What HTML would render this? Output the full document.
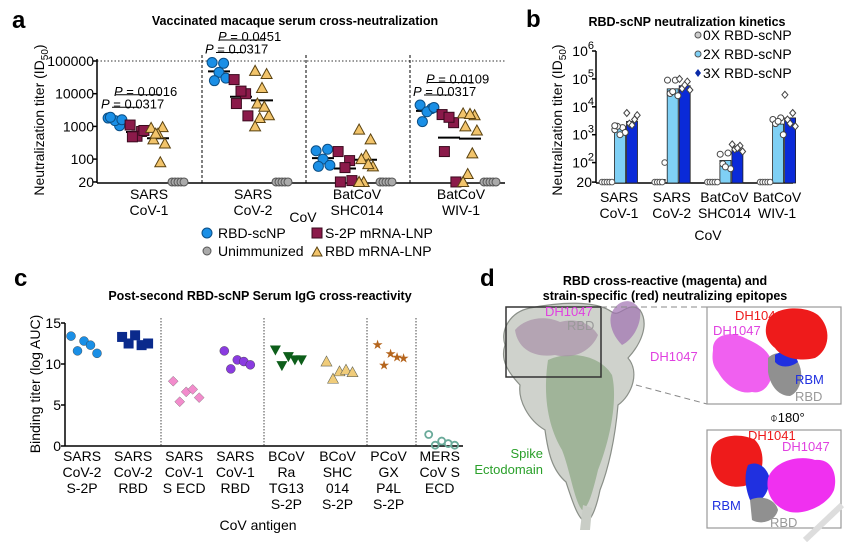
<!DOCTYPE html>
<html><head><meta charset="utf-8"><style>
html,body{margin:0;padding:0;background:#fff;}
svg{display:block;font-family:"Liberation Sans",Arial,sans-serif;}
</style></head><body>
<svg id="fig" width="845" height="542" viewBox="0 0 845 542">
<text x="12" y="28" font-size="24" font-weight="bold">a</text>
<text x="295" y="25" font-size="12.5" font-weight="bold" text-anchor="middle">Vaccinated macaque serum cross-neutralization</text>
<text x="526" y="27" font-size="24" font-weight="bold">b</text>
<text x="687" y="26" font-size="12.5" font-weight="bold" text-anchor="middle">RBD-scNP neutralization kinetics</text>
<text x="14" y="286" font-size="24" font-weight="bold">c</text>
<text x="260" y="300" font-size="12.5" font-weight="bold" text-anchor="middle">Post-second RBD-scNP Serum IgG cross-reactivity</text>
<text x="480" y="286" font-size="24" font-weight="bold">d</text>
<text x="665" y="285" font-size="12.5" font-weight="bold" text-anchor="middle">RBD cross-reactive (magenta) and</text>
<text x="665" y="300" font-size="12.5" font-weight="bold" text-anchor="middle">strain-specific (red) neutralizing epitopes</text>

<g id="pa">
<text transform="translate(44,120) rotate(-90)" font-size="14" text-anchor="middle">Neutralization titer (ID<tspan font-size="10" dy="4">50</tspan><tspan dy="-4">)</tspan></text>
<text x="303" y="222" font-size="14" text-anchor="middle">CoV</text>
<g>
<circle cx="207" cy="233" r="5" fill="#1a8fe6" stroke="#0b4f86" stroke-width="1"/>
<text x="218" y="238" font-size="14">RBD-scNP</text>
<rect x="312" y="228" width="10" height="10" fill="#8b1a4a" stroke="#3a0a1e"/>
<text x="325" y="238" font-size="14">S-2P mRNA-LNP</text>
<circle cx="207" cy="251" r="4" fill="#aaa" stroke="#555"/>
<text x="218" y="256" font-size="14">Unimmunized</text>
<path d="M312,256 L317,247 L322,256 Z" fill="#f2c46b" stroke="#5a4210"/>
<text x="325" y="256" font-size="14">RBD mRNA-LNP</text>
</g>
</g>
<g id="pb">
<text transform="translate(562,120) rotate(-90)" font-size="14" text-anchor="middle">Neutralization titer (ID<tspan font-size="10" dy="4">50</tspan><tspan dy="-4">)</tspan></text>
<text x="708" y="240" font-size="14" text-anchor="middle">CoV</text>
<g>
<circle cx="698" cy="35" r="3" fill="#ccc" stroke="#555"/>
<text x="703" y="40" font-size="14">0X RBD-scNP</text>
<circle cx="698" cy="54" r="3" fill="#7fd0f5" stroke="#555"/>
<text x="703" y="59" font-size="14">2X RBD-scNP</text>
<path d="M698,69 L701,73 L698,77 L695,73 Z" fill="#0a2aa8"/>
<text x="703" y="78" font-size="14">3X RBD-scNP</text>
</g>
</g>
<g id="pc">
<text transform="translate(40,384) rotate(-90)" font-size="14" text-anchor="middle">Binding titer (log AUC)</text>
<text x="258" y="530" font-size="14" text-anchor="middle">CoV antigen</text>
</g>

<g>
<g>
<path d="M505,345 C500,330 510,312 530,308 C560,302 595,300 612,312 C620,318 628,300 640,310 C650,325 640,345 628,358 C640,372 632,395 618,405 C615,440 608,470 600,490 C597,505 592,520 586,522 C578,520 572,500 566,482 C552,470 548,452 545,430 C528,420 518,400 520,385 C508,372 500,360 505,345 Z" fill="#cfd2cc" stroke="#8a8f88" stroke-width="1.2"/>
<path d="M548,360 C570,350 600,355 612,375 C618,400 610,440 598,470 C592,495 588,508 582,510 C574,500 570,470 562,450 C550,430 542,400 548,360 Z" fill="#93ad8c" opacity="0.8"/>
<path d="M515,330 C525,318 545,315 560,322 C575,318 590,322 598,335 C592,350 575,360 555,355 C535,358 518,350 515,330 Z" fill="#a890a8" opacity="0.7"/>
<path d="M612,312 C618,300 632,296 640,310 C642,325 632,340 622,345 C612,335 608,322 612,312 Z" fill="#a070b0" opacity="0.7"/>
<path d="M583,505 L592,508 L590,530 L580,530 Z" fill="#c9cdc6"/>
</g>
<rect x="506" y="307" width="95" height="70" fill="none" stroke="#333" stroke-width="1.5"/>
<line x1="601" y1="307" x2="707" y2="307" stroke="#888" stroke-dasharray="6,4"/>
<line x1="636" y1="385" x2="707" y2="404" stroke="#888" stroke-dasharray="6,4"/>
<text x="545" y="316" font-size="13" fill="#e040e0">DH1047</text>
<text x="567" y="330" font-size="13" fill="#999">RBD</text>
<text x="650" y="361" font-size="13" fill="#e040e0">DH1047</text>
<text x="543" y="458" font-size="13" fill="#2aa02a" text-anchor="end">Spike</text>
<text x="543" y="474" font-size="13" fill="#2aa02a" text-anchor="end">Ectodomain</text>
<g>
<rect x="707" y="307" width="134" height="97" fill="#fff" stroke="#999" stroke-width="1.2"/>
<path d="M713,350 C712,335 730,330 745,338 C760,345 768,350 772,362 C775,380 765,395 752,392 C740,395 725,385 718,372 C712,365 712,358 713,350 Z" fill="#f060f0"/>
<path d="M768,358 C775,350 790,352 798,362 C805,375 800,392 790,396 C778,396 770,385 768,372 Z" fill="#909090"/>
<path d="M775,355 C785,348 795,352 798,362 C790,368 780,368 775,362 Z" fill="#2030e0"/>
<path d="M768,320 C775,306 805,305 818,315 C832,328 830,350 815,358 C800,362 782,358 775,348 C765,340 764,330 768,320 Z" fill="#ee1b1b"/>
<text x="735" y="320" font-size="13" fill="#ee1b1b">DH1041</text>
<text x="713" y="335" font-size="13" fill="#e040e0">DH1047</text>
<text x="795" y="384" font-size="13" fill="#2030e0">RBM</text>
<text x="795" y="401" font-size="13" fill="#999">RBD</text>
</g>
<text x="770" y="422" font-size="13">⌽180°</text>
<g>
<rect x="707" y="430" width="134" height="98" fill="#fff" stroke="#999" stroke-width="1.2"/>
<path d="M712,450 C715,435 740,432 755,440 C765,450 765,470 755,482 C740,490 722,488 715,475 C710,465 710,458 712,450 Z" fill="#ee1b1b"/>
<path d="M748,465 C758,460 768,468 770,480 C768,495 760,505 750,500 C745,488 744,475 748,465 Z" fill="#2030e0"/>
<path d="M750,500 C760,495 775,498 778,510 C775,522 760,525 752,520 Z" fill="#909090"/>
<path d="M768,478 C775,460 800,455 815,460 C832,458 838,475 834,490 C828,505 805,515 790,512 C775,508 765,495 768,478 Z" fill="#f030f0"/>
<text x="748" y="440" font-size="13" fill="#ee1b1b">DH1041</text>
<text x="782" y="451" font-size="13" fill="#e040e0">DH1047</text>
<text x="712" y="510" font-size="13" fill="#2030e0">RBM</text>
<text x="770" y="527" font-size="13" fill="#999">RBD</text>
</g>
<path d="M805,540 L842,505" stroke="#ddd" stroke-width="6" fill="none"/>
</g>

<script>
// ===== Panel a data =====
const aGroups = ["SARS|CoV-1", "SARS|CoV-2", "BatCoV|SHC014", "BatCoV|WIV-1"];
const aRbdScnp = [[1800,1050,1500,1900,1600],[90000,85000,45000,25000,30000],[180,200,100,60,65],[4500,3500,2800,1400,3800]];
const aS2p = [[1100,700,500,480,750],[27000,10000,12000,5000,2100],[170,90,55,20,22],[2300,1300,1900,170,20]];
const aRbdMrna = [[900,950,600,400,300,80,600],[50000,40000,15000,5000,2200,4000,1800,1000],[800,400,130,100,60,70,20,20],[2500,2200,2400,1000,750,150,35,20]];
const aUnimm = [[20,20,20,20,20],[20,20,20,20,20],[20,20,20,20,20],[20,20,20,20,20]];
const aTicks = [20,100,1000,10000,100000];
const aTickLabels = ["20","100","1000","10000","100000"];
const aPvals = [["0.0317","0.0016"],["0.0317","0.0451"],[],["0.0317","0.0109"]];

// ===== Panel b data =====
const bGroups = ["SARS|CoV-1", "SARS|CoV-2", "BatCoV|SHC014", "BatCoV|WIV-1"];
const b0xBars = [20,25,20,20];
const b2xBars = [2000,44000,120,2400];
const b3xBars = [3000,57000,270,4000];
const b0xPts = [[20,20,20,20,20],[20,20,20,20,100],[20,20,20,20,20],[20,20,20,20,20]];
const b2xPts = [[1500,1800,2000,1200,1000,2100],[90000,90000,30000,25000,35000],[200,220,90,60,70],[3500,4000,2500,1000,3000]];
const b3xPts = [[6000,3500,2500,5000,2200],[100000,80000,45000,40000,60000],[450,400,300,250,330],[27000,6000,3500,2000,2500]];
const bTicks = [20,100,1000,10000,100000,1000000];
const bTickExp = ["","2","3","4","5","6"];

// ===== Panel c data =====
const cGroups = ["SARS|CoV-2|S-2P","SARS|CoV-2|RBD","SARS|CoV-1|S ECD","SARS|CoV-1|RBD","BCoV|Ra|TG13|S-2P","BCoV|SHC|014|S-2P","PCoV|GX|P4L|S-2P","MERS|CoV S|ECD"];
const cValues = [[13.4,11.6,12.8,12.3,11.3],[13.3,12.5,13.5,12.3,12.5],[7.9,5.4,6.6,6.9,5.9],[11.6,9.4,10.5,10.3,9.9],[11.7,9.8,10.9,10.5,10.5],[10.3,8.2,9.1,9.3,9.0],[12.3,9.8,11.2,10.8,10.7],[1.4,0.1,0.6,0.3,0.1]];
const cTicks = [0,5,10,15];

const NS = "http://www.w3.org/2000/svg";
function mk(tag, attrs, parent){ const e=document.createElementNS(NS,tag); for(const k in attrs) e.setAttribute(k,attrs[k]); parent.appendChild(e); return e; }
const L10 = Math.log10;

(function(){
  const g = document.getElementById('pa');
  const X0=97, X1=505, YB=183;
  const ya = v => 61 + (5 - L10(v))*32.7;
  const gx = k => 97 + k*104;
  let e;
  e = mk('line',{x1:X0,y1:ya(100000),x2:X1,y2:ya(100000),stroke:'#333','stroke-dasharray':'1.5,2'},g);
   
  e = mk('line',{x1:X0,y1:YB,x2:X1,y2:YB,stroke:'#000','stroke-width':1.5},g);
   
  e = mk('line',{x1:X0,y1:ya(100000)-2,x2:X0,y2:YB,stroke:'#000','stroke-width':1.5},g);
   
  aTicks.forEach((t,i)=>{
    const y=ya(t);
    const tk=mk('line',{x1:X0-4,y1:y,x2:X0,y2:y,stroke:'#000','stroke-width':1.5},g);
     
    const tl=mk('text',{x:X0-3,y:y+5,'font-size':14,'text-anchor':'end'},g); tl.textContent=aTickLabels[i];
     
  });
  [1,2,3].forEach(k=>{
    const s=mk('line',{x1:gx(k)+1,y1:ya(100000)-6,x2:gx(k)+1,y2:YB,stroke:'#000','stroke-dasharray':'3,2'},g);
     
  });
  const jit = i => ((i*5)%7 - 3)*2.3;
  const gm = arr => Math.pow(10, arr.reduce((a,b)=>a+L10(b),0)/arr.length);
  aGroups.forEach((name,k)=>{
    const base=gx(k);
    name.split('|').forEach((p,j)=>{
      const t=mk('text',{x:base+52,y:199+j*16,'font-size':14,'text-anchor':'middle'},g); t.textContent=p;
       
    });
    [[aRbdScnp,18],[aS2p,40],[aRbdMrna,61]].forEach(([ser,off])=>{
      const y=ya(gm(ser[k]));
      const m=mk('line',{x1:base+off-11,y1:y,x2:base+off+11,y2:y,stroke:'#000','stroke-width':2},g);
       
    });
    aRbdScnp[k].forEach((v,i)=>{
      const c=mk('circle',{cx:base+18+jit(i),cy:ya(v),r:5,fill:'#1a8fe6',stroke:'#0b4f86'},g);
       
    });
    aS2p[k].forEach((v,i)=>{
      const r=mk('rect',{x:base+40+jit(i)-5,y:ya(v)-5,width:10,height:10,fill:'#8b1a4a',stroke:'#3a0a1e'},g);
       
    });
    aRbdMrna[k].forEach((v,i)=>{
      const x=base+61+jit(i), y=ya(v);
      const p=mk('path',{d:`M${x-5.5},${y+4.5} L${x},${y-5.5} L${x+5.5},${y+4.5} Z`,fill:'#f2c46b',stroke:'#5a4210'},g);
       
    });
    aUnimm[k].forEach((v,i)=>{
      const c=mk('circle',{cx:base+75+i*3,cy:ya(v),r:4,fill:'#aaa',stroke:'#555'},g);
       
    });
    const pv=aPvals[k];
    if(pv.length){
      const yBase = ya(Math.max(...aRbdScnp[k]))-10;
      const pairs=[[18,40,yBase],[22,62,yBase-12.5]];
      pv.forEach((p,j)=>{
        const [o1,o2,y]=pairs[j];
        const ln=mk('line',{x1:base+o1-3,y1:y,x2:base+o2+2,y2:y,stroke:'#000'},g);
         
        const t=mk('text',{x:base+o1-14+j*9,y:y+1,'font-size':13},g);
         
        const ti=mk('tspan',{'font-style':'italic'},t); ti.textContent='P';
        const tr=mk('tspan',{},t); tr.textContent=' = '+p;
      });
    }
  });
})();

(function(){
  const g=document.getElementById('pb');
  const X0=596, X1=793, YB=183;
  const yb = v => 51 + (6 - L10(v))*27.9;
  const gc = k => 619 + k*52.7;
  let e;
  e=mk('line',{x1:X0,y1:YB,x2:X1,y2:YB,stroke:'#000','stroke-width':1.5},g);
   
  e=mk('line',{x1:X0,y1:yb(1e6),x2:X0,y2:YB,stroke:'#000','stroke-width':1.5},g);
   
  bTicks.forEach((t,i)=>{
    const y=yb(t);
    const tk=mk('line',{x1:X0-4,y1:y,x2:X0,y2:y,stroke:'#000','stroke-width':1.5},g);
     
    const tl=mk('text',{x:X0-4,y:y+5,'font-size':14,'text-anchor':'end'},g);
     
    if(bTickExp[i]===''){ tl.textContent='20'; }
    else { const a=mk('tspan',{},tl); a.textContent='10'; const b=mk('tspan',{'font-size':11,dy:-7},tl); b.textContent=bTickExp[i]; tl.setAttribute('x',X0-2); }
  });
  bGroups.forEach((name,k)=>{
    const c=gc(k);
    name.split('|').forEach((p,j)=>{
      const t=mk('text',{x:c,y:202+j*16,'font-size':14,'text-anchor':'middle'},g); t.textContent=p;
       
    });
    const bars=[[b0xBars,-12,'#e8e8e8'],[b2xBars,1,'#7fd0f5'],[b3xBars,13,'#0a2ad8']];
    bars.forEach(([arr,off,col],bi)=>{
      const y=yb(arr[k]);
      const r=mk('rect',{x:c+off-5.5,y:y,width:11,height:Math.max(0,YB-y),fill:col,stroke:'#222','stroke-width':0.8},g);
       
    });
    b0xPts[k].forEach((v,i)=>{
      const p=mk('circle',{cx:c-17+i*2.5,cy:yb(v),r:2.8,fill:'#fff',stroke:'#555'},g);
       
    });
    b2xPts[k].forEach((v,i)=>{
      const p=mk('circle',{cx:c+1+((i*3)%5-2)*2.6,cy:yb(v),r:3,fill:'#fff',stroke:'#444'},g);
       
    });
    b3xPts[k].forEach((v,i)=>{
      const x=c+13+((i*3)%5-2)*2.6, y=yb(v);
      const p=mk('path',{d:`M${x},${y-3.5} L${x+3},${y} L${x},${y+3.5} L${x-3},${y} Z`,fill:'#fff',stroke:'#444'},g);
       
    });
  });
})();

(function(){
  const g=document.getElementById('pc');
  const X0=65, X1=463, YB=446;
  const yc = v => 446 - v*8.2;
  const gc = k => 82 + k*51.1;
  let e;
  e=mk('line',{x1:X0,y1:YB,x2:X1,y2:YB,stroke:'#000','stroke-width':1.5},g);
   
  e=mk('line',{x1:X0,y1:yc(15),x2:X0,y2:YB,stroke:'#000','stroke-width':1.5},g);
   
  cTicks.forEach(t=>{
    const y=yc(t);
    const tk=mk('line',{x1:X0-4,y1:y,x2:X0,y2:y,stroke:'#000','stroke-width':1.5},g);
     
    const tl=mk('text',{x:X0-4,y:y+5,'font-size':14,'text-anchor':'end'},g); tl.textContent=String(t);
     
  });
  [161,264,367,416].forEach(x=>{
    const s=mk('line',{x1:x,y1:318,x2:x,y2:YB,stroke:'#666','stroke-dasharray':'1.5,1.5','stroke-width':1.2},g);
     
  });
  const cols=['#1a8fe6','#0a2a8c','#f28ccc','#8a3be0','#0d5e1a','#f0cc7a','#b5651d','#6aaa9a'];
  cGroups.forEach((name,k)=>{
    const c=gc(k);
    name.split('|').forEach((p,j)=>{
      const t=mk('text',{x:c,y:461+j*16,'font-size':14,'text-anchor':'middle'},g); t.textContent=p;
       
    });
    cValues[k].forEach((v,i)=>{
      const x=c-11+i*6.5, y=yc(v), col=cols[k];
      let m;
      if(k===0||k===3) m=mk('circle',{cx:x,cy:y,r:4.5,fill:col,stroke:'#333','stroke-width':0.4},g);
      else if(k===1) m=mk('rect',{x:x-5,y:y-5,width:10,height:10,fill:col},g);
      else if(k===2) m=mk('path',{d:`M${x},${y-5} L${x+5},${y} L${x},${y+5} L${x-5},${y} Z`,fill:col,stroke:'#666','stroke-width':0.4},g);
      else if(k===4) m=mk('path',{d:`M${x-5.5},${y-4.5} L${x+5.5},${y-4.5} L${x},${y+5.5} Z`,fill:col},g);
      else if(k===5) m=mk('path',{d:`M${x-5.5},${y+4.5} L${x},${y-5.5} L${x+5.5},${y+4.5} Z`,fill:col,stroke:'#665',"stroke-width":0.6},g);
      else if(k===6){ m=mk('text',{x:x,y:y+4,'font-size':13,'text-anchor':'middle',fill:col},g); m.textContent='★'; }
      else m=mk('circle',{cx:x,cy:y,r:3.5,fill:'none',stroke:col,'stroke-width':1.8},g);
       
    });
  });
})();
</script>
</svg>
</body></html>
